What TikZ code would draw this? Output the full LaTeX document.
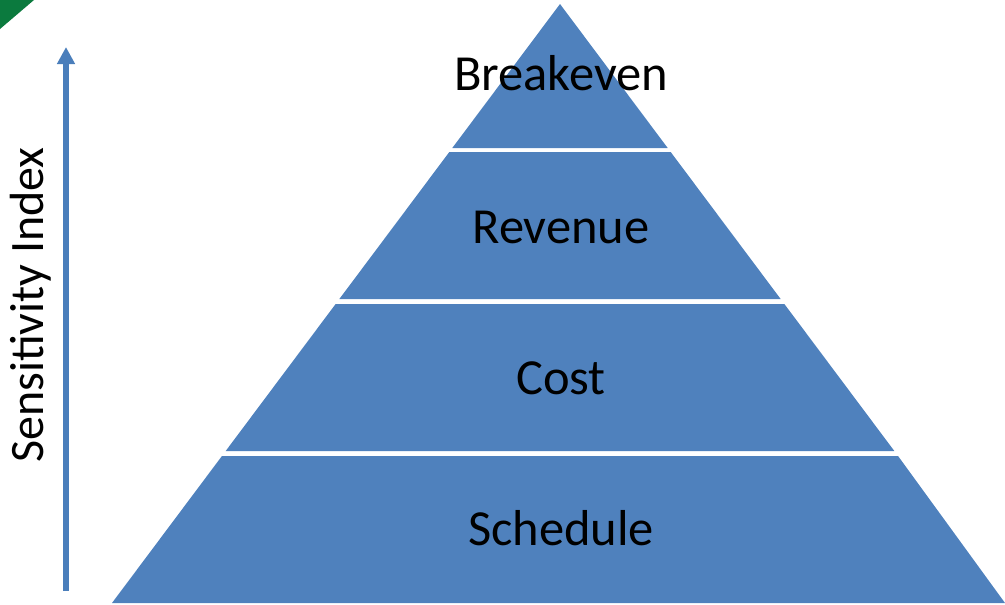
\documentclass[tikz,border=0pt]{standalone}
\usepackage{fontspec}
\setmainfont{Carlito}
\usetikzlibrary{arrows.meta}
\definecolor{tierblue}{HTML}{4F81BD}
\definecolor{arrowblue}{HTML}{4A7EBB}
\definecolor{cornergreen}{HTML}{0B7A3E}
\begin{document}
\begin{tikzpicture}[x=1pt,y=-1pt,
  tier/.style={fill=tierblue,draw=none},
  lbl/.style={font=\fontsize{50.5}{54}\selectfont,text=black,anchor=base,inner sep=0pt},
  sidelbl/.style={font=\fontsize{48}{52}\selectfont,text=black,anchor=base,inner sep=0pt,rotate=90}]
\useasboundingbox (0,0) rectangle (1005,605);
% corner mark
\fill[cornergreen] (0,0) -- (34,0) -- (0,29) -- cycle;
% pyramid tiers
\def\k{0.7479}
\fill[tier] (560,4) -- ({560+\k*144},148) -- ({560-\k*144},148) -- cycle;
\fill[tier] ({560-\k*148},152) -- ({560+\k*148},152) -- ({560+\k*295},299) -- ({560-\k*295},299) -- cycle;
\fill[tier] ({560-\k*300},304) -- ({560+\k*300},304) -- ({560+\k*447},451) -- ({560-\k*447},451) -- cycle;
\fill[tier] ({560-\k*452},456) -- ({560+\k*452},456) -- (1005,603) -- (112,603) -- cycle;
% labels
\node[lbl] (breakeven) at (561,90) {Breakeven};
\node[lbl] (revenue) at (561,243) {Revenue};
\node[lbl] (cost) at (561,394) {Cost};
\node[lbl] (schedule) at (561,545) {Schedule};
\node[sidelbl] (sens) at (43,305) {Sensitivity Index};
% arrow
\coordinate (abot) at (66,591);
\coordinate (atop) at (66,47);
\draw[arrowblue,line width=5.5pt,-{Triangle[width=17pt,length=17pt]}] (abot) -- (atop);
\end{tikzpicture}
\end{document}
